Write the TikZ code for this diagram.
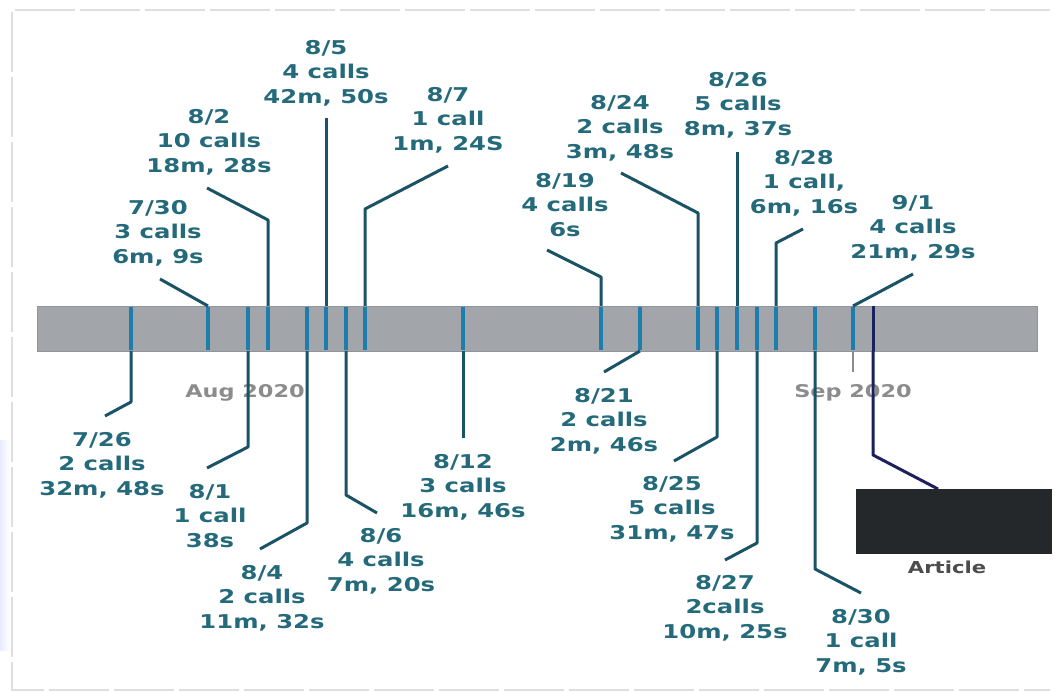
\documentclass[tikz,border=0pt]{standalone}
\usepackage{fontspec}
\newfontfamily\lblfont{DejaVu Sans}[FakeStretch=1.28]
\definecolor{lbltext}{RGB}{36,106,122}
\definecolor{leadc}{RGB}{26,82,102}
\definecolor{tickc}{RGB}{30,125,170}
\definecolor{barfill}{RGB}{162,166,170}
\definecolor{barline}{RGB}{145,149,153}
\definecolor{navyc}{RGB}{28,32,92}
\definecolor{boxc}{RGB}{36,40,42}
\definecolor{axisc}{RGB}{140,140,140}
\definecolor{framec}{RGB}{222,222,222}
\begin{document}
\begin{tikzpicture}[x=1pt,y=-1pt,
  lbl/.style={font=\lblfont\bfseries\fontsize{19}{24.5}\selectfont, text=lbltext, align=center, inner sep=0pt},
  axislbl/.style={font=\lblfont\bfseries\fontsize{17.5}{20}\selectfont, text=axisc, inner sep=0pt},
  leader/.style={draw=leadc, line width=3pt, line join=round},
  tickm/.style={draw=tickc, line width=3.5pt},
  navyline/.style={draw=navyc, line width=3pt, line join=round},
  framel/.style={draw=framec, line width=1.2pt, dash pattern=on 60pt off 5pt}]
\useasboundingbox (0,0) rectangle (1055,692);
\fill[white] (0,0) rectangle (1055,692);
% frame
\coordinate (fTL) at (12,10); \coordinate (fTR) at (1050,10);
\coordinate (fBL) at (12,690); \coordinate (fBR) at (1050,690);
\draw[framel] (fTR) -- (fTL) -- (fBL) -- (fBR);
\shade[left color=blue!8, right color=white] (0,440) rectangle (10,650);
% bar
\node[draw=barline, fill=barfill, line width=0.6pt, minimum width=1000pt, minimum height=45pt, inner sep=0pt, anchor=north west] (bar) at (37,306) {};
% axis labels
\node[axislbl] (aug) at (245,393) {Aug 2020};
\node[axislbl] (sep) at (853,393) {Sep 2020};
\coordinate (sepA) at (853,351); \coordinate (sepB) at (853,372);
\draw[axisc, line width=2pt] (sepA) -- (sepB);
% ticks inside bar
\foreach \x in {131,208,248,268,307,326,346,365,463,601,640,698,717,737,757,776,815,853}
  \draw[tickm] (\x,307) -- (\x,350);
\coordinate (artT) at (873,306); \coordinate (artB) at (873,351);
\draw[navyline] (artT) -- (artB);
% labels
\node[lbl] (l0726) at (102,465) {7/26\\2 calls\\32m, 48s};
\node[lbl] (l0730) at (158,233) {7/30\\3 calls\\6m, 9s};
\node[lbl] (l0801) at (210,516) {8/1\\1 call\\38s};
\node[lbl] (l0802) at (209,142) {8/2\\10 calls\\18m, 28s};
\node[lbl] (l0804) at (262,598) {8/4\\2 calls\\11m, 32s};
\node[lbl] (l0805) at (326,73) {8/5\\4 calls\\42m, 50s};
\node[lbl] (l0806) at (381,561) {8/6\\4 calls\\7m, 20s};
\node[lbl] (l0807) at (448,120) {8/7\\1 call\\1m, 24S};
\node[lbl] (l0812) at (463,487) {8/12\\3 calls\\16m, 46s};
\node[lbl] (l0819) at (565,205) {8/19\\4 calls\\6s};
\node[lbl] (l0821) at (604,421) {8/21\\2 calls\\2m, 46s};
\node[lbl] (l0824) at (620,128) {8/24\\2 calls\\3m, 48s};
\node[lbl] (l0825) at (672,509) {8/25\\5 calls\\31m, 47s};
\node[lbl] (l0826) at (738,105) {8/26\\5 calls\\8m, 37s};
\node[lbl] (l0827) at (725,608) {8/27\\2calls\\10m, 25s};
\node[lbl] (l0828) at (804,183) {8/28\\1 call,\\6m, 16s};
\node[lbl] (l0830) at (861,642) {8/30\\1 call\\7m, 5s};
\node[lbl] (l0901) at (913,228) {9/1\\4 calls\\21m, 29s};
% upper leaders
\coordinate (s0730) at (208,306); \coordinate (e0730) at (160,279);
\draw[leader] (s0730) -- (e0730);
\coordinate (s0802) at (268,306); \coordinate (k0802) at (268,220); \coordinate (e0802) at (207,188);
\draw[leader] (s0802) -- (k0802) -- (e0802);
\coordinate (s0805) at (326,306); \coordinate (e0805) at (326,118);
\draw[leader] (s0805) -- (e0805);
\coordinate (s0807) at (365,306); \coordinate (k0807) at (365,209); \coordinate (e0807) at (448,166);
\draw[leader] (s0807) -- (k0807) -- (e0807);
\coordinate (s0819) at (601,306); \coordinate (k0819) at (601,277); \coordinate (e0819) at (547,250);
\draw[leader] (s0819) -- (k0819) -- (e0819);
\coordinate (s0824) at (698,306); \coordinate (k0824) at (698,213); \coordinate (e0824) at (621,173);
\draw[leader] (s0824) -- (k0824) -- (e0824);
\coordinate (s0826) at (737,306); \coordinate (e0826) at (737,152);
\draw[leader] (s0826) -- (e0826);
\coordinate (s0828) at (776,306); \coordinate (k0828) at (776,243); \coordinate (e0828) at (803,229);
\draw[leader] (s0828) -- (k0828) -- (e0828);
\coordinate (s0901) at (853,306); \coordinate (e0901) at (913,274);
\draw[leader] (s0901) -- (e0901);
% lower leaders
\coordinate (s0726) at (131,351); \coordinate (k0726) at (131,402); \coordinate (e0726) at (105,416);
\draw[leader] (s0726) -- (k0726) -- (e0726);
\coordinate (s0801) at (248,351); \coordinate (k0801) at (248,447); \coordinate (e0801) at (207,468);
\draw[leader] (s0801) -- (k0801) -- (e0801);
\coordinate (s0804) at (307,351); \coordinate (k0804) at (307,523); \coordinate (e0804) at (260,549);
\draw[leader] (s0804) -- (k0804) -- (e0804);
\coordinate (s0806) at (346,351); \coordinate (k0806) at (346,495); \coordinate (e0806) at (377,513);
\draw[leader] (s0806) -- (k0806) -- (e0806);
\coordinate (s0812) at (463,351); \coordinate (e0812) at (463,438);
\draw[leader] (s0812) -- (e0812);
\coordinate (s0821) at (640,351); \coordinate (e0821) at (604,372);
\draw[leader] (s0821) -- (e0821);
\coordinate (s0825) at (717,351); \coordinate (k0825) at (717,437); \coordinate (e0825) at (674,461);
\draw[leader] (s0825) -- (k0825) -- (e0825);
\coordinate (s0827) at (757,351); \coordinate (k0827) at (757,543); \coordinate (e0827) at (725,560);
\draw[leader] (s0827) -- (k0827) -- (e0827);
\coordinate (s0830) at (815,351); \coordinate (k0830) at (815,569); \coordinate (e0830) at (861,593);
\draw[leader] (s0830) -- (k0830) -- (e0830);
% article
\node[fill=boxc, minimum width=196pt, minimum height=65pt, inner sep=0pt, anchor=north west] (artbox) at (856,489) {};
\coordinate (artK) at (873,455); \coordinate (artE) at (938,489);
\draw[navyline] (artB) -- (artK) -- (artE);
\node[font=\lblfont\bfseries\fontsize{16.5}{18}\selectfont, text=black!70, inner sep=0pt] (artlbl) at (947,567) {Article};
\end{tikzpicture}
\end{document}
